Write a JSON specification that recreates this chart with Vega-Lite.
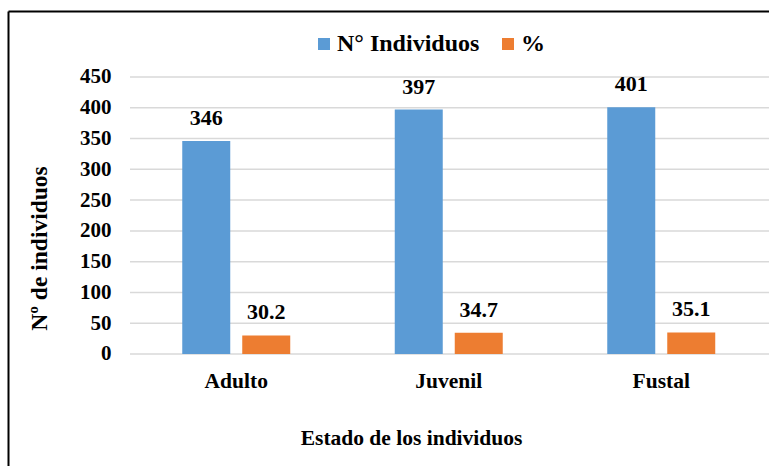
{
  "$schema": "https://vega.github.io/schema/vega-lite/v6.json",
  "width": 761,
  "height": 455,
  "padding": {"left": 8, "top": 11, "right": 0, "bottom": 0},
  "autosize": {"type": "none"},
  "background": "white",
  "config": {
    "view": {"stroke": null},
    "font": "Liberation Serif"
  },
  "datasets": {
    "bars": [
      {"Estado": "Adulto", "Serie": "N° Individuos", "Valor": 346},
      {"Estado": "Adulto", "Serie": "%", "Valor": 30.2},
      {"Estado": "Juvenil", "Serie": "N° Individuos", "Valor": 397},
      {"Estado": "Juvenil", "Serie": "%", "Valor": 34.7},
      {"Estado": "Fustal", "Serie": "N° Individuos", "Valor": 401},
      {"Estado": "Fustal", "Serie": "%", "Valor": 35.1}
    ],
    "grid": [
      {"v": 0}, {"v": 50}, {"v": 100}, {"v": 150}, {"v": 200},
      {"v": 250}, {"v": 300}, {"v": 350}, {"v": 400}, {"v": 450}
    ]
  },
  "layer": [
    {
      "data": {"name": "grid"},
      "mark": {"type": "rule", "color": "#D9D9D9", "strokeWidth": 1.5},
      "encoding": {
        "y": {"field": "v", "type": "quantitative"},
        "x": {"datum": "Adulto", "type": "nominal", "bandPosition": 0},
        "x2": {"value": "width"}
      }
    },
    {
      "data": {"name": "bars"},
      "mark": {"type": "bar"},
      "encoding": {
        "x": {
          "field": "Estado", "type": "nominal",
          "sort": ["Adulto", "Juvenil", "Fustal"],
          "scale": {"domain": ["Adulto", "Juvenil", "Fustal"], "paddingInner": 0, "paddingOuter": 0.29059, "align": 0.98785, "round": false},
          "axis": {
            "orient": "top",
            "title": "Estado de los individuos",
            "domain": true, "domainColor": "#000000", "domainWidth": 2,
            "ticks": false, "grid": false,
            "labelPadding": -370, "labelBaseline": "middle", "labelAlign": "center", "labelAngle": 0,
            "labelFont": "Liberation Serif", "labelFontSize": 21.5, "labelFontWeight": "bold", "labelColor": "#000000",
            "titleFont": "Liberation Serif", "titleFontSize": 21.5, "titleFontWeight": "bold", "titleColor": "#000000",
            "titleX": 403, "titleY": 427, "titleAlign": "center", "titleBaseline": "middle", "titleAngle": 0
          }
        },
        "xOffset": {
          "field": "Serie", "type": "nominal",
          "sort": ["N° Individuos", "%"],
          "scale": {"domain": ["N° Individuos", "%"], "paddingInner": 0.2, "paddingOuter": 0.871}
        },
        "y": {
          "field": "Valor", "type": "quantitative",
          "scale": {"domain": [-181.95, 557.22], "nice": false, "zero": false},
          "axis": {
            "orient": "left",
            "title": "Nº de individuos",
            "values": [0, 50, 100, 150, 200, 250, 300, 350, 400, 450],
            "domain": true, "domainColor": "#000000", "domainWidth": 2,
            "ticks": false, "grid": false,
            "labelPadding": -103, "labelAlign": "right", "labelBaseline": "middle",
            "labelFont": "Liberation Serif", "labelFontSize": 21, "labelFontWeight": "bold", "labelColor": "#000000",
            "titleFont": "Liberation Serif", "titleFontSize": 23.5, "titleFontWeight": "bold", "titleColor": "#000000",
            "titleX": 31, "titleY": 237, "titleAlign": "center", "titleBaseline": "middle", "titleAngle": -90
          }
        },
        "y2": {"datum": 0},
        "color": {
          "field": "Serie", "type": "nominal",
          "sort": ["N° Individuos", "%"],
          "scale": {"domain": ["N° Individuos", "%"], "range": ["#5B9BD5", "#ED7D31"]},
          "legend": {
            "orient": "none", "direction": "horizontal", "title": null,
            "legendX": 304, "legendY": 21, "padding": 0,
            "symbolType": "square", "symbolSize": 144, "symbolStrokeWidth": 0, "symbolOpacity": 1,
            "labelFont": "Liberation Serif", "labelFontSize": 24, "labelFontWeight": "bold", "labelColor": "#000000",
            "labelOffset": 1, "columnPadding": 16
          }
        }
      }
    },
    {
      "data": {"name": "bars"},
      "mark": {"type": "text", "font": "Liberation Serif", "fontSize": 22, "fontWeight": "bold", "color": "#000000", "baseline": "middle", "dy": -23},
      "encoding": {
        "x": {"field": "Estado", "type": "nominal", "sort": ["Adulto", "Juvenil", "Fustal"]},
        "xOffset": {"field": "Serie", "type": "nominal", "sort": ["N° Individuos", "%"]},
        "y": {"field": "Valor", "type": "quantitative"},
        "text": {"field": "Valor", "type": "nominal"}
      }
    }
  ]
}
